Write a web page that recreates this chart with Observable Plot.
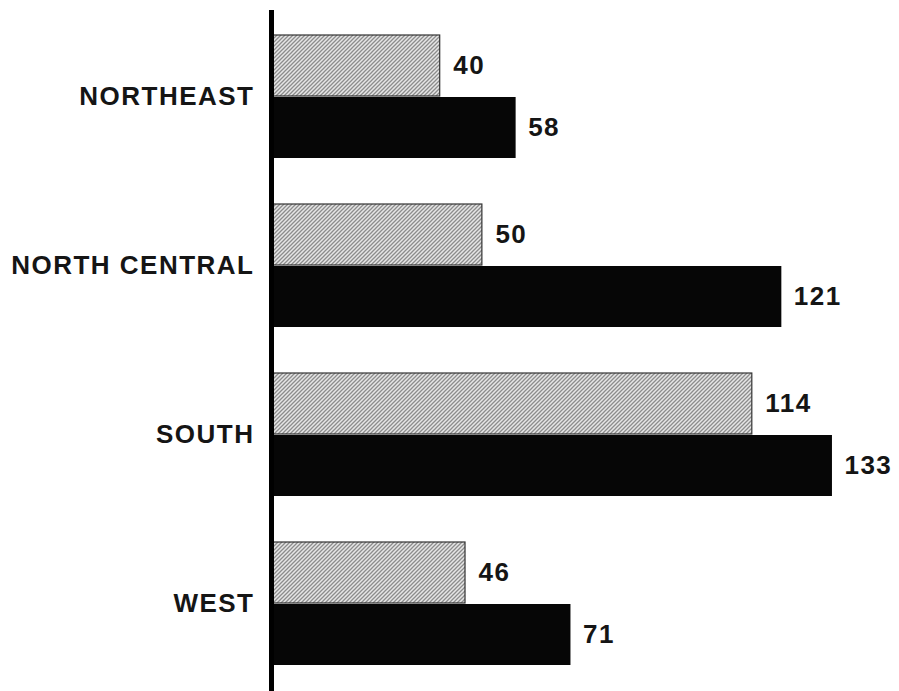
<!DOCTYPE html>
<html><head><meta charset="utf-8">
<script src="https://cdn.jsdelivr.net/npm/d3@7"></script>
<script src="https://cdn.jsdelivr.net/npm/@observablehq/plot@0.6"></script>
<style>body{margin:0;background:#fff}</style>
</head><body><div id="chart"></div>
<script>
const regions = ["NORTHEAST", "NORTH CENTRAL", "SOUTH", "WEST"];
const seriesA = [40, 50, 114, 46];
const seriesB = [58, 121, 133, 71];

const rowsA = regions.map((r, i) => ({region: r, value: seriesA[i]}));
const rowsB = regions.map((r, i) => ({region: r, value: seriesB[i]}));

const chart = Plot.plot({
  width: 899, height: 691,
  marginLeft: 271, marginRight: 8, marginTop: 10, marginBottom: 0,
  style: {fontFamily: "'Liberation Sans', Arial, sans-serif", fontSize: "26px", background: "#fff", overflow: "visible", letterSpacing: "1.5px", color: "#111"},
  x: {domain: [0, 147], axis: null},
  y: {domain: regions, paddingInner: 0.27, paddingOuter: 0.138, axis: null},
  marks: [
    Plot.barX(rowsA, {x: "value", y: "region", fill: "url(#hatch)", stroke: "#333", strokeWidth: 1.2, insetBottom: 62}),
    Plot.barX(rowsB, {x: "value", y: "region", fill: "#060606", insetTop: 62}),
    Plot.text(rowsA, {x: "value", y: "region", text: d => String(d.value), dy: -31, dx: 13, textAnchor: "start", fontSize: 26, fontWeight: "bold", fill: "#151515"}),
    Plot.text(rowsB, {x: "value", y: "region", text: d => String(d.value), dy: 31, dx: 12, textAnchor: "start", fontSize: 26, fontWeight: "bold", fill: "#151515"}),
    Plot.axisY({tickSize: 0, tickPadding: 17, fontSize: 26, fontWeight: "bold", fill: "#151515", label: null}),
    Plot.ruleX([0], {stroke: "#000", strokeWidth: 5})
  ]
});

d3.select(chart).insert("defs", ":first-child").html(`
  <pattern id="hatch" patternUnits="userSpaceOnUse" width="4" height="4">
    <rect width="4" height="4" fill="#e6e6e6"></rect>
    <path d="M-1,1 l2,-2 M0,4 l4,-4 M3,5 l2,-2" stroke="#8c8c8c" stroke-width="1.3"></path>
  </pattern>`);

document.getElementById("chart").appendChild(chart);
</script>
</body></html>
